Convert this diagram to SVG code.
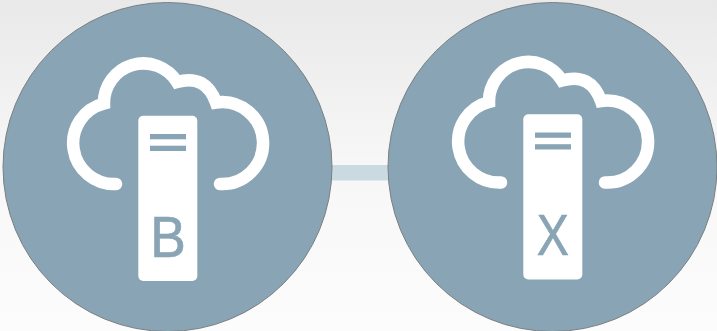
<svg xmlns="http://www.w3.org/2000/svg" width="717" height="331" viewBox="0 0 717 331">
<style>
.disc{fill:#89a5b5;stroke:#7a7f82;stroke-width:1}
.cloud{fill:none;stroke:#fff;stroke-width:12.500;stroke-linecap:round;stroke-linejoin:miter}
.srv{fill:#fff}
.bar{fill:#89a5b5}
.lbl{font-family:"Liberation Sans",Arial,sans-serif;font-size:58px;fill:#89a5b5;stroke:#89a5b5;stroke-width:.7;text-anchor:middle}
</style>
<defs>
<linearGradient id="bg" x1="0" y1="0" x2="0" y2="1"><stop offset="0" stop-color="#e9e9e9"/><stop offset="0.5" stop-color="#f7f7f7"/><stop offset="1" stop-color="#fcfcfc"/></linearGradient>
<g id="icon">
<path class="cloud" d="M116 184A40.900 40.900 0 0 1 104 103.500A39.500 39.500 0 0 1 177 82Q206 74 216 102.500A41 41 0 1 1 220 184"/>
<rect class="srv" x="138.300" y="115.700" width="59" height="165.300" rx="5"/>
<rect class="bar" x="150" y="134" width="36" height="5.300"/>
<rect class="bar" x="150" y="145.700" width="36" height="5.300"/>
</g>
</defs>
<rect width="717" height="331" fill="url(#bg)"/>
<g id="connectors"><rect x="325" y="165" width="70" height="15.500" fill="#c9dae0"/></g>
<g id="node-b">
<circle class="disc" cx="167.500" cy="167" r="164.500"/>
<use href="#icon"/>
<text class="lbl" transform="translate(168 257.300) scale(.92 1)">B</text>
</g>
<g id="node-x">
<circle class="disc" cx="552.500" cy="167" r="164.500"/>
<use href="#icon" x="385" y="-1.500"/>
<text class="lbl" transform="translate(552.700 255) scale(.83 1)">X</text>
</g>
</svg>
